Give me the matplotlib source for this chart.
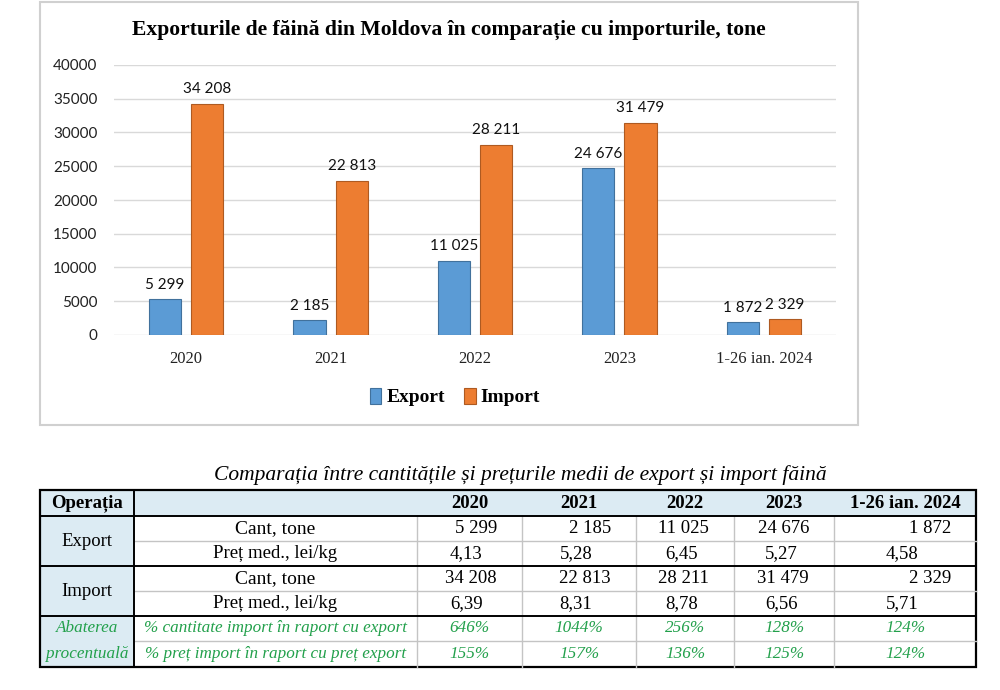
import matplotlib
matplotlib.use("Agg")
import matplotlib.pyplot as plt
import numpy as np
from matplotlib.patches import Rectangle

# data
periods = ["2020", "2021", "2022", "2023", "1-26 ian. 2024"]
export_tone = [5299, 2185, 11025, 24676, 1872]
import_tone = [34208, 22813, 28211, 31479, 2329]
export_price = ["4,13", "5,28", "6,45", "5,27", "4,58"]
import_price = ["6,39", "8,31", "8,78", "6,56", "5,71"]
pct_cant = ["646%", "1044%", "256%", "128%", "124%"]
pct_pret = ["155%", "157%", "136%", "125%", "124%"]
y_ticks = [0, 5000, 10000, 15000, 20000, 25000, 30000, 35000, 40000]

BLUE = "#5b9bd5"
ORANGE = "#ed7d31"
GREEN = "#22a04b"
LIGHT = "#dcebf3"
SERIF = "Liberation Serif"
SANS = "Lato"

W, H = 1000, 690


def fmt(v):
    return f"{v:,}".replace(",", " ")


fig = plt.figure(figsize=(W / 100, H / 100), dpi=100)

# overlay axes in pixel coords for frame + table
bg = fig.add_axes([0, 0, 1, 1], zorder=0)
bg.set_xlim(0, W)
bg.set_ylim(H, 0)
bg.axis("off")

bg.add_patch(Rectangle((40, 2), 818, 423, fill=False, edgecolor="#d0d0d0", lw=1.5))

# bar chart
ax = fig.add_axes([114 / W, 1 - 335 / H, 722 / W, 270 / H], zorder=1)
ax.patch.set_alpha(0)
x = np.arange(len(periods))
bw = 0.222
off = 0.146
b1 = ax.bar(x - off, export_tone, bw, color=BLUE, edgecolor="#41719c", lw=0.8, label="Export", zorder=3)
b2 = ax.bar(x + off, import_tone, bw, color=ORANGE, edgecolor="#ae5a21", lw=0.8, label="Import", zorder=3)
for bars, vals in ((b1, export_tone), (b2, import_tone)):
    for r, v in zip(bars, vals):
        ax.annotate(fmt(v), (r.get_x() + r.get_width() / 2, v), xytext=(0, 5.5),
                    textcoords="offset points", ha="center", va="bottom",
                    fontsize=11, family=SANS, color="#111111")

ax.set_xlim(-0.5, len(periods) - 0.5)
ax.set_ylim(0, 40000)
ax.set_yticks(y_ticks)
ax.set_yticklabels([str(t) for t in y_ticks], family=SANS, fontsize=11)
ax.set_xticks(x)
ax.set_xticklabels(periods, family=SERIF, fontsize=12)
ax.tick_params(axis="both", length=0, colors="#222222")
ax.tick_params(axis="y", pad=12)
ax.tick_params(axis="x", pad=11.5)
ax.grid(axis="y", color="#d9d9d9", lw=1, zorder=0)
for s in ax.spines.values():
    s.set_visible(False)

fig.text(449 / W, 1 - 30 / H, "Exporturile de făină din Moldova în comparație cu importurile, tone",
         ha="center", va="center", family=SERIF, fontweight="bold", fontsize=15.6)

fig.legend(handles=[b1, b2], loc="center", bbox_to_anchor=(455 / W, 1 - 397 / H), ncol=2,
           frameon=False, prop={"family": SERIF, "weight": "bold", "size": 14},
           handlelength=0.6, handleheight=0.9, handletextpad=0.25, columnspacing=1.0)

# table
bg.text(520, 475, "Comparația între cantitățile și prețurile medii de export și import făină",
        ha="center", va="center", family=SERIF, style="italic", fontsize=15.5)

tl, tr = 40, 976
op_r = 134
col_edges = [417, 522, 636, 734, 834, 976]
row_y = [490, 516, 541, 566, 591, 616, 641, 667]

bg.add_patch(Rectangle((tl, row_y[0]), tr - tl, row_y[1] - row_y[0], facecolor=LIGHT, edgecolor="none"))
bg.add_patch(Rectangle((tl, row_y[1]), op_r - tl, row_y[-1] - row_y[1], facecolor=LIGHT, edgecolor="none"))

for y in (row_y[2], row_y[4], row_y[6]):
    bg.plot([op_r, tr], [y, y], color="#c4c4c4", lw=1)
for xe in col_edges[:-1]:
    bg.plot([xe, xe], [row_y[1], row_y[-1]], color="#c4c4c4", lw=1)
for y in (row_y[1], row_y[3], row_y[5]):
    bg.plot([tl, tr], [y, y], color="black", lw=1.4)
bg.plot([op_r, op_r], [row_y[0], row_y[-1]], color="black", lw=1.4)
bg.add_patch(Rectangle((tl, row_y[0]), tr - tl, row_y[-1] - row_y[0], fill=False, edgecolor="black", lw=1.6))

fs = 13.5
gfs = 12.3
opx = (tl + op_r) / 2
lblx = (op_r + col_edges[0]) / 2


def mid(i):
    return (row_y[i] + row_y[i + 1]) / 2


bg.text(opx, mid(0), "Operația", ha="center", va="center", family=SERIF, fontweight="bold", fontsize=fs)
bg.text(opx, row_y[2], "Export", ha="center", va="center", family=SERIF, fontsize=fs)
bg.text(opx, row_y[4], "Import", ha="center", va="center", family=SERIF, fontsize=fs)
bg.text(opx, mid(5), "Abaterea", ha="center", va="center", family=SERIF, style="italic", fontsize=gfs, color=GREEN)
bg.text(opx, mid(6), "procentuală", ha="center", va="center", family=SERIF, style="italic", fontsize=gfs, color=GREEN)

for r in (1, 3):
    bg.text(lblx, mid(r), "Cant, tone", ha="center", va="center", family=SERIF, fontsize=14)
    bg.text(lblx, mid(r + 1), "Preț med., lei/kg", ha="center", va="center", family=SERIF, fontsize=fs)
bg.text(lblx, mid(5), "% cantitate import în raport cu export", ha="center", va="center",
        family=SERIF, style="italic", fontsize=gfs, color=GREEN)
bg.text(lblx, mid(6), "% preț import în raport cu preț export", ha="center", va="center",
        family=SERIF, style="italic", fontsize=gfs, color=GREEN)

for i, p in enumerate(periods):
    c0, c1 = col_edges[i], col_edges[i + 1]
    cx = (c0 + c1) / 2
    bg.text(cx, mid(0), p, ha="center", va="center", family=SERIF, fontweight="bold", fontsize=fs)
    bg.text(c1 - 25, mid(1), fmt(export_tone[i]), ha="right", va="center", family=SERIF, fontsize=fs)
    bg.text(cx - 3, mid(2), export_price[i], ha="center", va="center", family=SERIF, fontsize=fs)
    bg.text(c1 - 25, mid(3), fmt(import_tone[i]), ha="right", va="center", family=SERIF, fontsize=fs)
    bg.text(cx - 3, mid(4), import_price[i], ha="center", va="center", family=SERIF, fontsize=fs)
    bg.text(cx, mid(5), pct_cant[i], ha="center", va="center", family=SERIF, style="italic", fontsize=gfs, color=GREEN)
    bg.text(cx, mid(6), pct_pret[i], ha="center", va="center", family=SERIF, style="italic", fontsize=gfs, color=GREEN)

fig.savefig("out.png", dpi=100)
